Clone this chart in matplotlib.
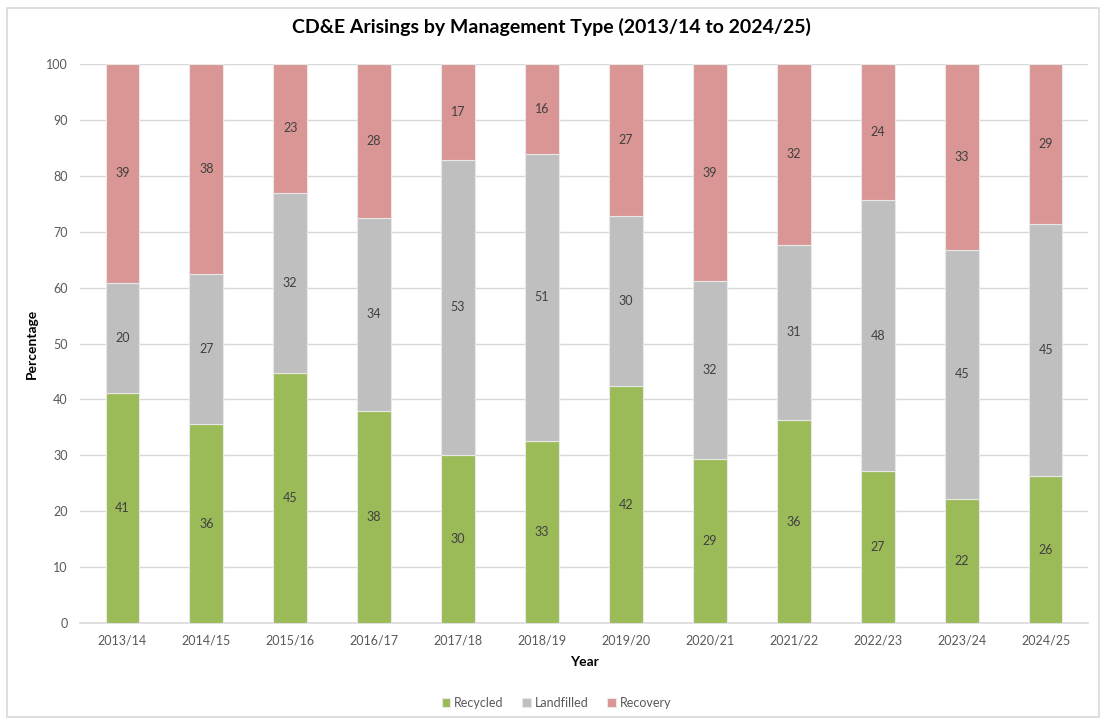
import matplotlib.pyplot as plt
from matplotlib.patches import Rectangle

plt.rcParams['font.family'] = ['Lato', 'DejaVu Sans']

years = ['2013/14', '2014/15', '2015/16', '2016/17', '2017/18', '2018/19',
         '2019/20', '2020/21', '2021/22', '2022/23', '2023/24', '2024/25']
recycled = [41.2, 35.6, 44.8, 38.0, 30.1, 32.6, 42.4, 29.3, 36.3, 27.2, 22.2, 26.3]
landfilled = [19.7, 26.8, 32.2, 34.4, 52.8, 51.3, 30.4, 31.9, 31.4, 48.4, 44.6, 45.1]
recovery = [39.1, 37.6, 23.0, 27.6, 17.1, 16.1, 27.2, 38.8, 32.3, 24.4, 33.2, 28.6]

series = [('Recycled', recycled, '#9BBB59'),
          ('Landfilled', landfilled, '#BFBFBF'),
          ('Recovery', recovery, '#D99694')]

fig = plt.figure(figsize=(11.02, 7.2), dpi=100)
ax = fig.add_axes([0.0729, 0.1347, 0.9141, 0.7763])

# chart border like the spreadsheet chart area
fig.patches.append(Rectangle((0.006, 0.004), 0.991, 0.985, transform=fig.transFigure,
                             fill=False, edgecolor='#D9D9D9', linewidth=1.2))

x = list(range(len(years)))
bottom = [0.0] * len(years)
for name, vals, color in series:
    bars = ax.bar(x, vals, width=0.4, bottom=bottom, color=color, label=name,
                  edgecolor='#E8E8E8', linewidth=0.8, zorder=3)
    labels = [f'{round(v):.0f}' for v in vals]
    ax.bar_label(bars, labels=labels, label_type='center', fontsize=9, color='#404040')
    bottom = [b + v for b, v in zip(bottom, vals)]

ax.set_xlim(-0.5, len(years) - 0.5)
ax.set_ylim(0, 100)
ax.set_yticks(range(0, 101, 10))
ax.set_xticks(x, years)
ax.grid(axis='y', color='#D9D9D9', linewidth=1, zorder=0)
for s in ['top', 'right', 'left']:
    ax.spines[s].set_visible(False)
ax.spines['bottom'].set_color('#D9D9D9')
ax.spines['bottom'].set_linewidth(1.2)
ax.tick_params(axis='both', length=0, labelsize=9, colors='#595959')
ax.tick_params(axis='x', pad=8)
ax.tick_params(axis='y', pad=9)

ax.set_xlabel('Year', fontsize=10, fontweight='bold', color='black', labelpad=7)
ax.set_ylabel('Percentage', fontsize=10, fontweight='bold', color='black', labelpad=6)
fig.suptitle('CD&E Arisings by Management Type (2013/14 to 2024/25)', y=0.975,
             fontsize=14, fontweight='bold', color='black')

fig.legend(loc='lower center', bbox_to_anchor=(0.505, 0.0), ncol=3, frameon=False,
           fontsize=9, handlelength=0.7, handleheight=0.7, handletextpad=0.3,
           columnspacing=1.5, labelcolor='#595959')

fig.savefig('out.png', dpi=100)
